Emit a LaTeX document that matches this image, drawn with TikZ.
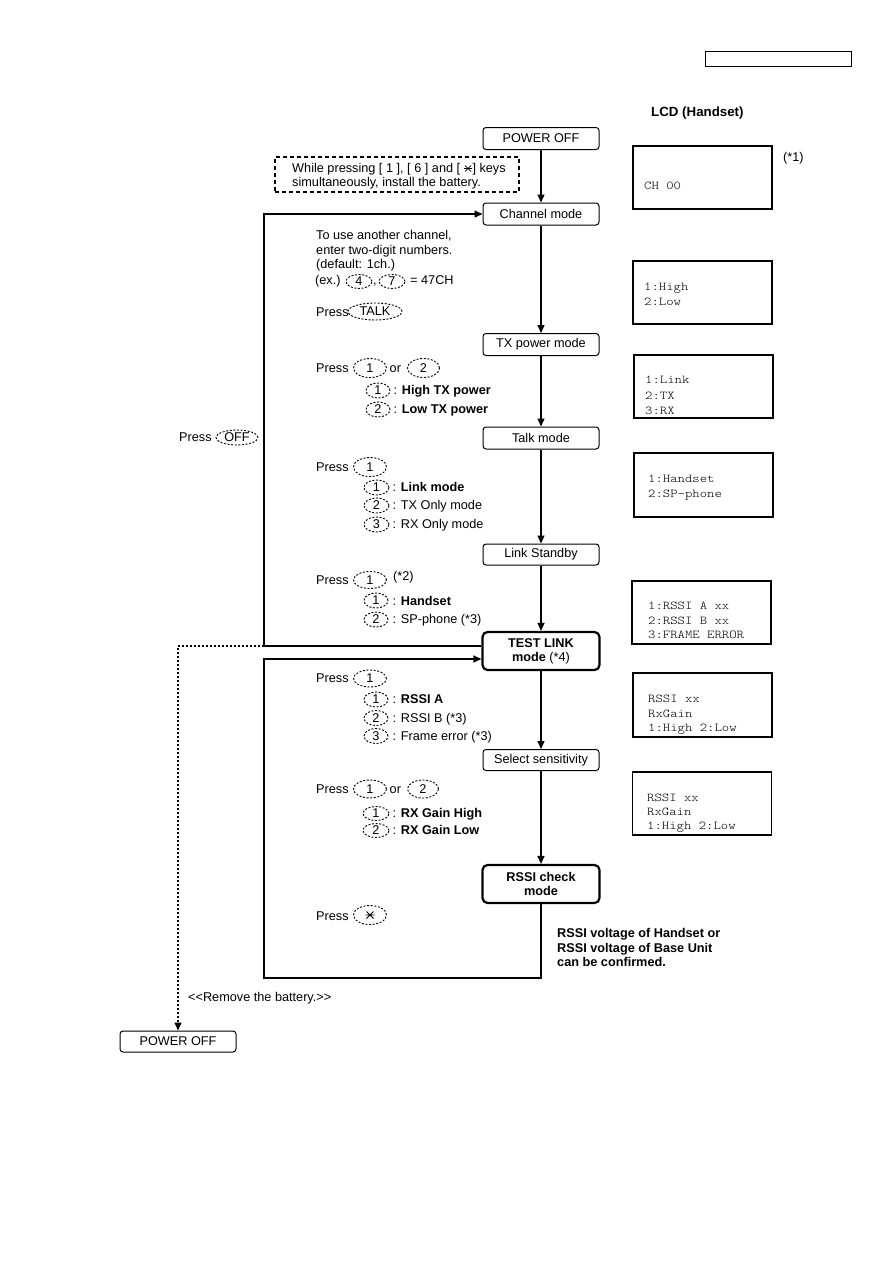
\documentclass[tikz,border=0pt]{standalone}
\usepackage{fontspec}
\setmainfont{Liberation Sans}
\newfontfamily\lcdfont{lmmonolt10-regular}[Extension=.otf,FakeStretch=1.17]
\usetikzlibrary{arrows.meta,shapes.geometric,calc}
\newcommand\fs{\fontsize{12.7}{14}\selectfont}
\newcommand\keystar{\tikz[baseline=-4pt,x=1pt,y=1pt,line width=0.8pt]{\draw (-3,-3)--(3,3) (-3,3)--(3,-3) (-4,0)--(4,0);}}
\begin{document}
\begin{tikzpicture}[x=1pt,y=-1pt,
  mbox/.style={draw,rounded corners=3pt,line width=1pt,minimum width=116pt,minimum height=22pt,inner sep=0,font=\fs},
  tbox/.style={mbox,line width=2.2pt,rounded corners=5pt,minimum width=117pt,minimum height=38pt,align=center},
  lcd/.style={draw,line width=1.4pt,minimum width=139pt,minimum height=63pt,inner sep=0},
  lt/.style={anchor=base west,inner sep=0,font=\lcdfont\fontsize{12}{14}\selectfont},
  key/.style={ellipse,draw,dash pattern=on 2pt off 1.6pt,line width=0.9pt,inner sep=0,font=\fs},
  arr/.style={line width=1.2pt,-{Triangle[length=8pt,width=7pt]}},
  txt/.style={anchor=base west,inner sep=0,font=\fs},
  btxt/.style={anchor=base west,inner sep=0,font=\fs\bfseries}]
\useasboundingbox (0,0) rectangle (893,1263);
% header
\node[draw,line width=0.8pt,minimum width=146pt,minimum height=15pt,inner sep=0] (hdr) at (778,58.5) {};
\node[anchor=base west,inner sep=0,font=\fontsize{13.3}{15}\selectfont\bfseries] (lcdtitle) at (651,116) {LCD (Handset)};
% mode boxes
\node[mbox] (pw1) at (541,138.5) {POWER OFF};
\node[mbox] (ch) at (541,214) {Channel mode};
\node[mbox] (tx) at (541,344.5) {TX power mode};
\node[mbox] (talk) at (541,438) {Talk mode};
\node[mbox,minimum height=21pt] (ls) at (541,554.5) {Link Standby};
\node[tbox] (tl) at (541,651) {\textbf{TEST LINK}\\\textbf{mode} (*4)};
\node[mbox,minimum height=21pt] (sel) at (541,760) {Select sensitivity};
\node[tbox] (rc) at (541,884) {\textbf{RSSI check}\\\textbf{mode}};
\node[mbox,minimum height=21pt] (pw2) at (178,1041.5) {POWER OFF};
% dashed instruction box
\node[draw,dash pattern=on 4pt off 3pt,line width=1.3pt,minimum width=244pt,minimum height=35pt,inner sep=0] (db) at (397,174.5) {};
\node[txt] (db1) at (292,172.5) {While pressing [ 1 ], [ 6 ] and [ \keystar] keys};
\node[txt] (db2) at (292,186) {simultaneously, install the battery.};
% connectors
\draw[arr] (pw1) -- (ch);
\draw[arr] (ch) -- (tx);
\draw[arr] (tx) -- (talk);
\draw[arr] (talk) -- (ls);
\draw[arr] (ls) -- (tl);
\draw[arr] (tl) -- (sel);
\draw[arr] (sel) -- (rc);
\coordinate (a1) at (264,646);
\coordinate (a2) at (264,214);
\coordinate (b1) at (541,978);
\coordinate (b2) at (264,978);
\coordinate (b3) at (264,659);
\coordinate (d1) at (178,646);
\draw[arr] (tl.west |- a1) -- (a1) -- (a2) -- (ch.west);
\draw[arr] (rc.south) -- (b1) -- (b2) -- (b3) -- (tl.west |- b3);
\draw[line width=1.2pt,dash pattern=on 2pt off 2pt,-{Triangle[length=8pt,width=7pt]}] (a1) -- (d1) -- (pw2.north);
% channel mode texts
\node[txt] (c1) at (316,239) {To use another channel,};
\node[txt] (c2) at (316,254) {enter two-digit numbers.};
\node[txt] (c3) at (316,268.3) {(default: 1ch.)};
\node[txt] (c4) at (315,284.3) {(ex.)};
\node[key,minimum width=26pt,minimum height=14pt] (k4) at (359,281.5) {4};
\node[txt] (c5) at (373,284.3) {,};
\node[key,minimum width=26pt,minimum height=14pt] (k7) at (392,281.5) {7};
\node[txt] (c6) at (410,284.3) {= 47CH};
\node[txt] (c7) at (316,316.5) {Press};
\node[key,minimum width=54pt,minimum height=17pt] (ktalk) at (375,311.5) {TALK};
% TX power texts
\node[txt] (x1) at (316,372.5) {Press};
\node[key,minimum width=33pt,minimum height=19pt] (kx1) at (370,368) {1};
\node[txt] (x2) at (389.5,372.5) {or};
\node[key,minimum width=32pt,minimum height=19pt] (kx2) at (423.5,368) {2};
\node[key,minimum width=24pt,minimum height=15pt] (kx3) at (378,390.5) {1};
\node[txt] (x3) at (393.5,394.5) {: \textbf{High TX power}};
\node[key,minimum width=24pt,minimum height=15pt] (kx4) at (378,409.5) {2};
\node[txt] (x4) at (393.5,413.5) {: \textbf{Low TX power}};
% OFF
\node[txt] (o1) at (179,441) {Press};
\node[key,minimum width=42pt,minimum height=15pt] (koff) at (237,437.5) {OFF};
% talk texts
\node[txt] (m1) at (316,471) {Press};
\node[key,minimum width=33pt,minimum height=19pt] (km1) at (370,467) {1};
\node[key,minimum width=25pt,minimum height=15pt] (km2) at (376.5,487.5) {1};
\node[txt] (m2) at (392.5,491.5) {: \textbf{Link mode}};
\node[key,minimum width=25pt,minimum height=15pt] (km3) at (376.5,505.5) {2};
\node[txt] (m3) at (392.5,509.5) {: TX Only mode};
\node[key,minimum width=25pt,minimum height=15pt] (km4) at (376.5,524.5) {3};
\node[txt] (m4) at (392.5,528.5) {: RX Only mode};
% link standby texts
\node[txt] (s1) at (316,584) {Press};
\node[key,minimum width=33pt,minimum height=17pt] (ks1) at (370,580) {1};
\node[txt] (s2) at (393,580) {(*2)};
\node[key,minimum width=24pt,minimum height=15pt] (ks2) at (376,600.5) {1};
\node[txt] (s3) at (392.5,605) {: \textbf{Handset}};
\node[key,minimum width=24pt,minimum height=15pt] (ks3) at (376,619.5) {2};
\node[txt] (s4) at (392.5,623.5) {: SP-phone (*3)};
% test link texts
\node[txt] (r1) at (316,682) {Press};
\node[key,minimum width=33pt,minimum height=17pt] (kr1) at (370,678.5) {1};
\node[key,minimum width=24pt,minimum height=15pt] (kr2) at (376,699.5) {1};
\node[txt] (r2) at (392.5,703.5) {: \textbf{RSSI A}};
\node[key,minimum width=24pt,minimum height=15pt] (kr3) at (376,718) {2};
\node[txt] (r3) at (392.5,722) {: RSSI B (*3)};
\node[key,minimum width=24pt,minimum height=15pt] (kr4) at (376,736) {3};
\node[txt] (r4) at (392.5,740) {: Frame error (*3)};
% select sensitivity texts
\node[txt] (g1) at (316,793) {Press};
\node[key,minimum width=33pt,minimum height=18pt] (kg1) at (370,789) {1};
\node[txt] (g2) at (389.5,793) {or};
\node[key,minimum width=31pt,minimum height=18pt] (kg2) at (423,789) {2};
\node[key,minimum width=26pt,minimum height=14pt] (kg3) at (376,813.5) {1};
\node[txt] (g3) at (392.5,817) {: \textbf{RX Gain High}};
\node[key,minimum width=26pt,minimum height=14pt] (kg4) at (376,830.5) {2};
\node[txt] (g4) at (392.5,834.5) {: \textbf{RX Gain Low}};
% star
\node[txt] (p1) at (316,920) {Press};
\node[key,minimum width=33pt,minimum height=19pt] (kst) at (370,915) {};
\draw[line width=0.8pt] ($(kst)+(-3.5,-3.5)$) -- ($(kst)+(3.5,3.5)$) ($(kst)+(-3.5,3.5)$) -- ($(kst)+(3.5,-3.5)$) ($(kst)+(-4.5,0)$) -- ($(kst)+(4.5,0)$);
\node[btxt] (v1) at (557,937) {RSSI voltage of Handset or};
\node[btxt] (v2) at (557,952) {RSSI voltage of Base Unit};
\node[btxt] (v3) at (557,966) {can be confirmed.};
\node[txt] (rb) at (188,1001) {<\kern0pt<Remove the battery.>\kern0pt>};
% LCD boxes
\node[lcd] (lcd1) at (702.5,177.5) {};
\node[txt] (n1) at (783,161) {(*1)};
\node[lt] (l11) at (644,189) {CH 00};
\node[lcd] (lcd2) at (702.5,292.5) {};
\node[lt] (l21) at (644,290) {1:High};
\node[lt] (l22) at (644,305.6) {2:Low};
\node[lcd] (lcd3) at (703.5,386.5) {};
\node[lt] (l31) at (645,383) {1:Link};
\node[lt] (l32) at (645,399) {2:TX};
\node[lt] (l33) at (645,414) {3:RX};
\node[lcd,minimum height=64pt] (lcd4) at (703.5,485) {};
\node[lt] (l41) at (648,482) {1:Handset};
\node[lt] (l42) at (648,497) {2:SP-phone};
\node[lcd] (lcd5) at (701.5,612.5) {};
\node[lt] (l51) at (648,609) {1:RSSI A xx};
\node[lt] (l52) at (648,624) {2:RSSI B xx};
\node[lt] (l53) at (648,638) {3:FRAME ERROR};
\node[lcd,minimum height=64pt] (lcd6) at (702.5,705) {};
\node[lt] (l61) at (648,702) {RSSI xx};
\node[lt] (l62) at (648,717) {RxGain};
\node[lt] (l63) at (648,731) {1:High 2:Low};
\node[lcd] (lcd7) at (702,803.5) {};
\node[lt] (l71) at (647,801) {RSSI xx};
\node[lt] (l72) at (647,815) {RxGain};
\node[lt] (l73) at (647,829) {1:High 2:Low};
\end{tikzpicture}
\end{document}
